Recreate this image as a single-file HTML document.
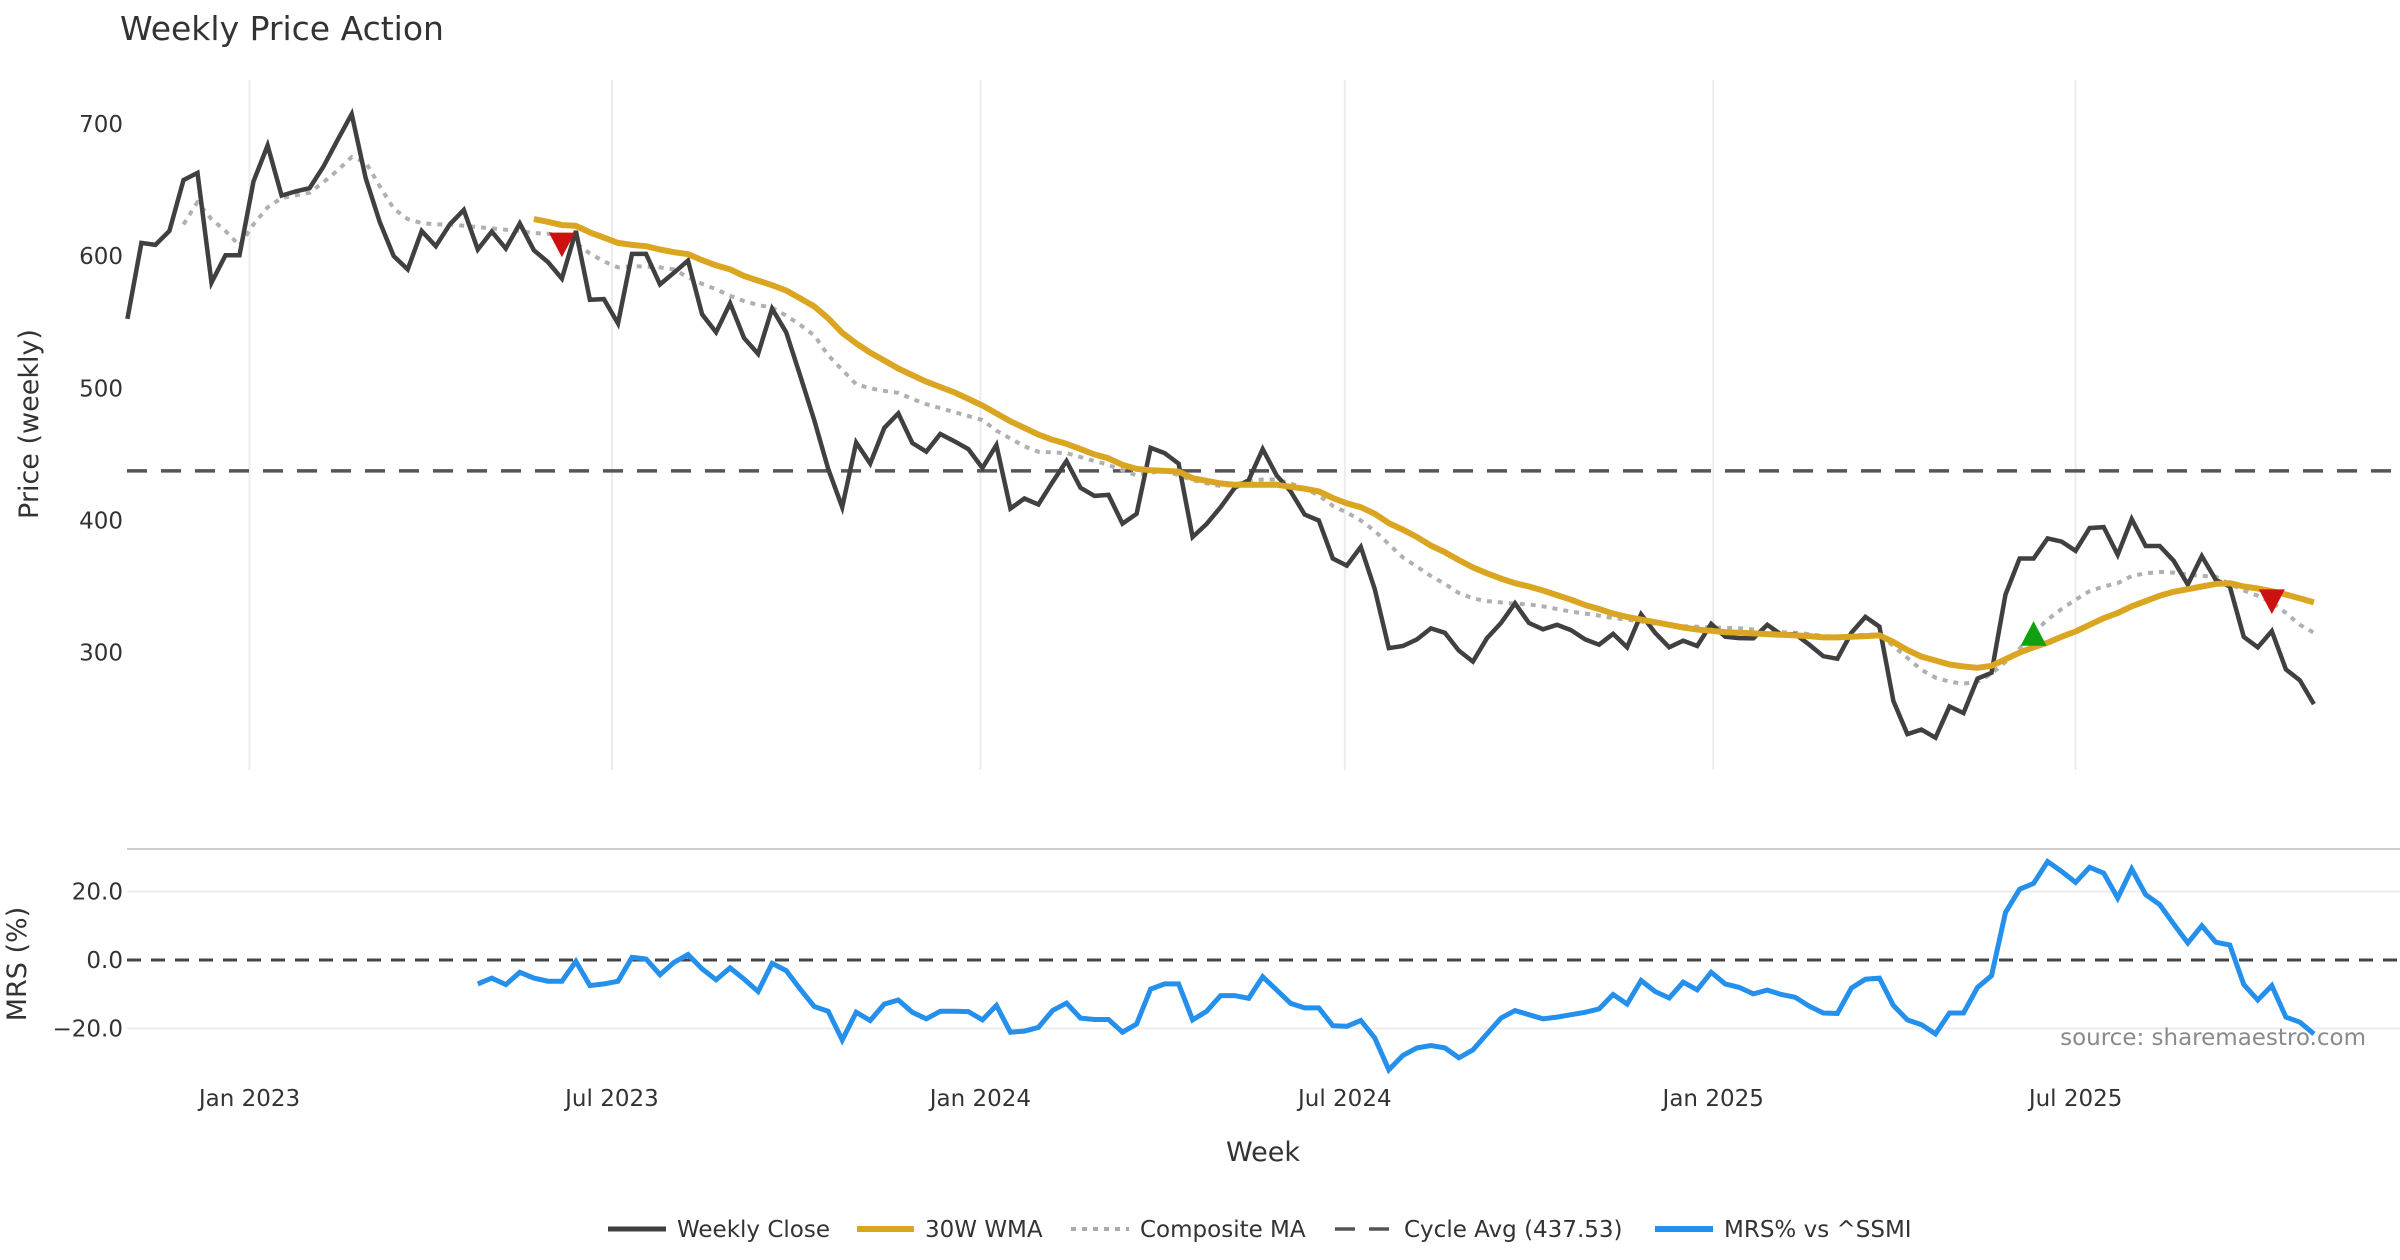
<!DOCTYPE html>
<html><head><meta charset="utf-8"><style>
html,body{margin:0;padding:0;background:#fff;}
svg{display:block;font-family:"DejaVu Sans","Liberation Sans",sans-serif;}
</style></head><body>
<svg id="chart" width="2400" height="1260" viewBox="0 0 2400 1260" xmlns="http://www.w3.org/2000/svg">
<rect width="2400" height="1260" fill="#fff"/>
<text x="120" y="40" font-size="33" fill="#333">Weekly Price Action</text>
<g id="grid"></g>
<g id="series"></g>
<g id="axes"></g>
<text transform="translate(38,424) rotate(-90)" text-anchor="middle" font-size="27" fill="#333">Price (weekly)</text>
<text transform="translate(26,964) rotate(-90)" text-anchor="middle" font-size="27" fill="#333">MRS (%)</text>
<text x="1263" y="1161" text-anchor="middle" font-size="27" fill="#333">Week</text>
<text x="2366" y="1045" text-anchor="end" font-size="23" fill="#8a8a8a">source: sharemaestro.com</text>
<g font-size="23" fill="#333">
<g><line x1="608" y1="1229" x2="666" y2="1229" stroke="#404040" stroke-width="5"/><text x="677" y="1237">Weekly Close</text></g>
<g><line x1="857" y1="1229" x2="914" y2="1229" stroke="#DAA520" stroke-width="6"/><text x="925" y="1237">30W WMA</text></g>
<g><line x1="1071" y1="1229" x2="1129" y2="1229" stroke="#aaa" stroke-width="4" stroke-dasharray="5 6"/><text x="1140" y="1237">Composite MA</text></g>
<g><line x1="1335" y1="1229" x2="1393" y2="1229" stroke="#555" stroke-width="3.5" stroke-dasharray="20 14"/><text x="1404" y="1237">Cycle Avg (437.53)</text></g>
<g><line x1="1655" y1="1229" x2="1713" y2="1229" stroke="#2490EC" stroke-width="6"/><text x="1724" y="1237">MRS% vs ^SSMI</text></g>
</g>
</svg>
<script>
const closeValues=[552.5,610,608.5,619,657.6,663,580,600.7,600.7,656.6,683.7,645.8,649,651.5,668,688,707.5,659,626,600,590,619,607.5,624,635,605,618.6,605.8,624.7,604.4,595.6,583,619,567,567.5,549,601.7,601.7,578.6,587.5,596.6,556,542.4,564.4,538,526,560.3,542.4,509.5,476,439,410,459,443,470,481,458.6,452,465.4,460,454,439.7,457,409,416.6,412,429,445,424.7,418.6,419.3,397.6,405,455,451,443,387.5,397.3,410,424.7,430.5,454,434,422,404.4,400,371.2,365.8,380,348,303.4,305,310,318.3,315,301.4,293.2,311,322.4,337.3,322.4,317.6,321,317,310,306,314.2,304,329,315,304,309,305,321.7,312,311,310.8,321,313.6,314,306,297.3,295.3,315,327,319.7,263.4,238.3,241.7,235.6,259.3,254.2,280.3,284.7,344,371.2,371.2,386.4,384,377,394.2,395,374,401,380.7,380.7,369.5,351.5,373,355,350,311.9,304,316.3,287.3,279,261];
const wmaStart=29;
const wmaValues=[628,626,623.5,623,618,614,610,608.5,607.5,605,603,601.5,597,593,590,585,581.5,578,574,568,562,553,542,534,527,521,515,510,505,501,497,492,487,481,475,470,465,461,458,454,450,447,442,439,438,437.5,437,432,430,428,427,427,427,427,425.5,424,422,417,413,410,405,398,393,387.5,381,376,370,364.5,360,356,352.5,350,347,343.5,340,336,333,329.5,327,325,323,321,319,317.5,316.5,315.5,315,314.5,314,313.5,313,312.5,311.5,311.5,312,312.5,313,308,302,297,294,291,289.5,288.5,290,295,300,304,307.5,312,316,321,326,330,335,339,343,346,348,350,352,352.5,350,348.5,346.5,344,341,338];
const compStart=4;
const compValues=[624,641,628,619,608,624,637,644,646,648,656,665,675,671,653,636,628,625,624,624,623,622,621,620,619,617.5,617,616,610,602,596,591.5,592.5,592,591.5,590,584,579,575,570,566,563,561,555,548,540,525,514,503,500,498,496.5,492,488,485,482,479,476,468,462,456,452,451.5,451,448,445,442,438,434,436,438,434,430.5,428,426,427,430,431,431,428,424,419,411,406,400,392,382,372,365,358,352,345,341,339,338,337,336.5,335,333,331,329.5,328,326,325,323.5,322,321,320,319.5,319,318.7,318.5,317.5,316.5,315.5,315,314,312.5,312,313,313.5,313.5,305,296,287,281,278,276.5,278,284,293,303,315,325,333,340,346.5,350,352.5,358,360,361,360.5,359,358,357.5,352,347,343,338,330,321,315];
const mrsStart=25;
const mrsValues=[-7,-5.3,-7.2,-3.6,-5.3,-6.2,-6.2,-0.4,-7.5,-7,-6.2,0.8,0.3,-4.3,-0.7,1.6,-2.6,-5.8,-2.3,-5.6,-9.2,-1,-3.1,-8.5,-13.6,-15,-23.4,-15.3,-17.7,-12.9,-11.7,-15.3,-17.2,-15,-15,-15.1,-17.5,-13.3,-21.1,-20.8,-19.7,-14.8,-12.6,-17,-17.4,-17.4,-21.1,-18.7,-8.5,-7,-7,-17.5,-15,-10.4,-10.4,-11.2,-4.9,-8.8,-12.7,-14,-14,-19.2,-19.4,-17.7,-22.8,-32.1,-27.9,-25.7,-25,-25.7,-28.6,-26.3,-21.6,-17,-14.8,-16,-17.2,-16.7,-16,-15.3,-14.3,-10.1,-12.9,-6,-9.2,-11.1,-6.5,-8.7,-3.6,-7,-8,-9.9,-8.8,-10.1,-10.9,-13.5,-15.5,-15.6,-8.2,-5.6,-5.3,-13.3,-17.5,-18.9,-21.6,-15.5,-15.5,-8,-4.6,13.9,20.7,22.4,28.8,25.9,22.7,27.1,25.4,18.1,26.6,19.1,16.2,10.5,5,10,5.2,4.4,-7.2,-11.7,-7.5,-16.7,-18.2,-21.6];
const cycleAvg=437.53;
const signalIdx=[31,136,153];
const signalPrice=[608,315,338];
const signalDir=["down","up","down"];
const priceTicks=[700,600,500,400,300];
const mrsTicks=[20,0,-20];
const mrsTickLabels=["20.0","0.0","\u221220.0"];
const dateTicks=["2023-01-01","2023-07-01","2024-01-01","2024-07-01","2025-01-01","2025-07-01"];
const dateTickLabels=["Jan 2023","Jul 2023","Jan 2024","Jul 2024","Jan 2025","Jul 2025"];
const startDate="2022-10-31";

const NS="http://www.w3.org/2000/svg";
const X0=127.4, STEP=14.016, XR=2400;
const xIdx=i=>X0+i*STEP;
const xDate=d=>X0+((Date.parse(d)-Date.parse(startDate))/86400000)/7*STEP;
const yP=v=>124+(700-v)*1.3215;
const yM=v=>960-v*3.42;
function mk(tag,attrs,parent){const e=document.createElementNS(NS,tag);for(const k in attrs)e.setAttribute(k,attrs[k]);parent.appendChild(e);return e;}
const grid=document.getElementById('grid'),series=document.getElementById('series'),axes=document.getElementById('axes');

dateTicks.forEach((d,k)=>{
  const x=xDate(d)-2;
  const g=mk('line',{x1:x,x2:x,y1:80,y2:770,stroke:'#ececec','stroke-width':2},grid);
  
  
  const t=mk('text',{x:x,y:1106,'text-anchor':'middle','font-size':23,fill:'#333'},axes);
  t.textContent=dateTickLabels[k];
  
  
});
priceTicks.forEach(v=>{
  const t=mk('text',{x:123,y:yP(v)+8,'text-anchor':'end','font-size':23,fill:'#333'},axes);
  t.textContent=String(v);
  
  
});
const sep=mk('line',{x1:127,x2:XR,y1:849,y2:849,stroke:'#cfcfcf','stroke-width':2},grid);


mrsTicks.forEach((v,k)=>{
  if(v!==0){const g=mk('line',{x1:127,x2:XR,y1:yM(v),y2:yM(v),stroke:'#ececec','stroke-width':2},grid);
  
  }
  const t=mk('text',{x:123,y:yM(v)+8,'text-anchor':'end','font-size':23,fill:'#333'},axes);
  t.textContent=mrsTickLabels[k];
  
  
});
const zl=mk('line',{x1:127,x2:XR,y1:yM(0),y2:yM(0),stroke:'#444','stroke-width':3,'stroke-dasharray':'14 10'},series);


const cy=mk('line',{x1:127,x2:XR,y1:yP(cycleAvg),y2:yP(cycleAvg),stroke:'#555','stroke-width':3.5,'stroke-dasharray':'20 14'},series);


function pts(vals,start,yf){return vals.map((v,i)=>xIdx(start+i).toFixed(1)+','+yf(v).toFixed(1)).join(' ');}
const comp=mk('polyline',{points:pts(compValues,compStart,yP),fill:'none',stroke:'#b0b0b0','stroke-width':4,'stroke-dasharray':'5 6','stroke-linejoin':'round'},series);


const cl=mk('polyline',{points:pts(closeValues,0,yP),fill:'none',stroke:'#404040','stroke-width':4.5,'stroke-linejoin':'miter'},series);


const wma=mk('polyline',{points:pts(wmaValues,wmaStart,yP),fill:'none',stroke:'#DAA520','stroke-width':6,'stroke-linejoin':'round'},series);


const mrs=mk('polyline',{points:pts(mrsValues,mrsStart,yM),fill:'none',stroke:'#2490EC','stroke-width':5,'stroke-linejoin':'miter'},series);


signalIdx.forEach((idx,k)=>{
  const x=xIdx(idx),y=yP(signalPrice[k]),s=13;
  const d=signalDir[k]==='down'?`M${x-s},${y-s} L${x+s},${y-s} L${x},${y+s*0.9} Z`:`M${x-s},${y+s} L${x+s},${y+s} L${x},${y-s*0.9} Z`;
  const p=mk('path',{d:d,fill:signalDir[k]==='down'?'#CC1111':'#11A011'},series);
  
  
});
</script>
</body></html>
